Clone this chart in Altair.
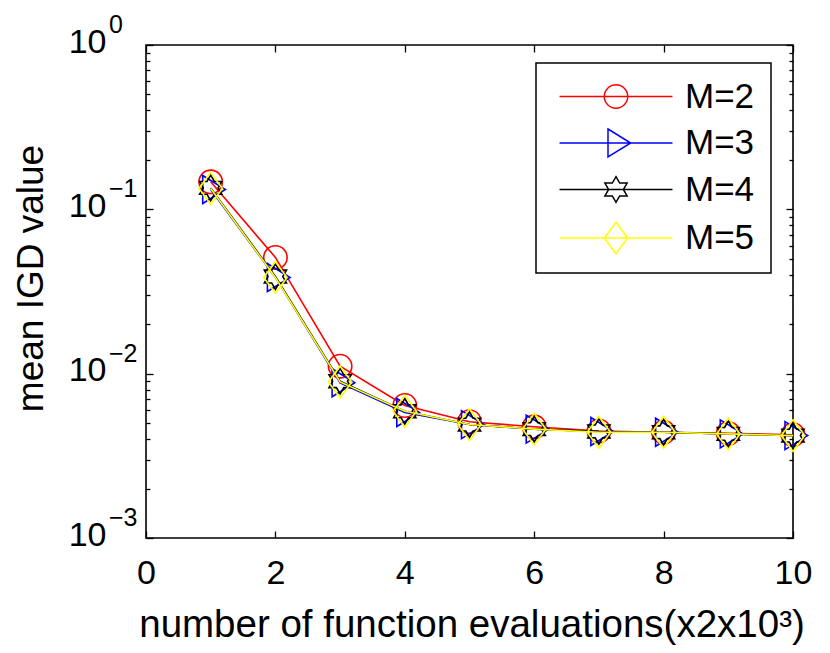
import math
import altair as alt
import pandas as pd

# ---- data ----
x_vals = [1, 2, 3, 4, 5, 6, 7, 8, 9, 10]
series_names = ["M=2", "M=3", "M=4", "M=5"]
series_colors = ["#ff0000", "#0000ff", "#000000", "#ffff00"]
m2 = [0.147, 0.051, 0.0111, 0.0064, 0.0051, 0.00475, 0.00448, 0.0044, 0.00433, 0.00425]
m3 = [0.132, 0.0385, 0.0088, 0.0058, 0.0049, 0.0046, 0.00445, 0.0044, 0.0043, 0.0042]
m4 = [0.135, 0.0390, 0.0090, 0.0059, 0.0049, 0.0046, 0.00445, 0.0044, 0.0043, 0.0042]
m5 = [0.134, 0.0385, 0.0089, 0.0059, 0.0049, 0.0046, 0.0044, 0.0044, 0.0043, 0.0042]
series_values = [m2, m3, m4, m5]

x_ticks = [0, 2, 4, 6, 8, 10]
y_major = [0.001, 0.01, 0.1, 1]
y_exponents = ["\u22123", "\u22122", "\u22121", "0"]
y_minor = [k * 10 ** e for e in (-3, -2, -1) for k in range(2, 10)]

x_title = "number of function evaluations(x2x10\u00b3)"
y_title = "mean IGD value"

rows = []
for name, vals in zip(series_names, series_values):
    for xv, yv in zip(x_vals, vals):
        rows.append({"series": name, "x": xv, "y": yv})
df = pd.DataFrame(rows)
exp_df = pd.DataFrame({"v": y_major, "e": y_exponents})

# ---- marker shapes (unit square paths) ----
def fmt(v):
    return f"{v:.3f}"

def circle_path(cx, r):
    return (f"M {fmt(cx + r)} 0 A {fmt(r)} {fmt(r)} 0 1 1 {fmt(cx - r)} 0 "
            f"A {fmt(r)} {fmt(r)} 0 1 1 {fmt(cx + r)} 0 Z")

def tri_path(cx):
    return f"M {fmt(cx - 0.8)} -1.4 L {fmt(cx + 1.47)} 0 L {fmt(cx - 0.8)} 1.4 Z"

def hex_path(cx):
    R = 1.28
    r = R / math.sqrt(3)
    pts = []
    for k in range(12):
        a = math.radians(-90 + 30 * k)
        rad = R if k % 2 == 0 else r
        pts.append((cx + rad * math.cos(a), rad * math.sin(a)))
    return "M " + " L ".join(f"{fmt(px)} {fmt(py)}" for px, py in pts) + " Z"

def dia_path(cx):
    return f"M {fmt(cx)} -1.58 L {fmt(cx + 1.17)} 0 L {fmt(cx)} 1.58 L {fmt(cx - 1.17)} 0 Z"

marker_paths = [circle_path(0, 1.17), tri_path(0), hex_path(0), dia_path(0)]
mc = 4.65
line_seg = "M -1 0 L 10.3 0 "
legend_paths = [line_seg + p for p in
                [circle_path(mc, 1.17), tri_path(mc), hex_path(mc), dia_path(mc)]]

FONT = "Liberation Sans"
W, H = 647, 493

xs = alt.Scale(domain=[0, 10], nice=False, zero=False)
ys = alt.Scale(type="log", domain=[0.001, 1], nice=False)

common_axis = dict(domain=False, grid=False, tickColor="black", tickWidth=1.3,
                   labelFont=FONT, labelColor="black", titleFont=FONT,
                   titleColor="black", titleFontWeight="normal",
                   labelFlush=False, labelOverlap=False)

x_bottom = alt.Axis(values=x_ticks, format="d", tickSize=7, offset=-7,
                    labelFontSize=34, labelPadding=45, labelBaseline="alphabetic",
                    title=x_title, titleFontSize=38.5, titleBaseline="alphabetic",
                    titleX=W / 2 + 2, titleY=105, titleAlign="center", **common_axis)
y_left = alt.Axis(values=y_major, labelExpr="'10'", tickSize=7, offset=-7,
                  labelFontSize=34, labelPadding=40, labelBaseline="alphabetic",
                  labelOffset=7, title=y_title, titleFontSize=37,
                  titleAngle=270, titleBaseline="alphabetic", titleAlign="center",
                  titleX=-111, titleY=233, **common_axis)

legend_def = alt.Legend(orient="none", legendX=390, legendY=18, title=None,
                        labelFont=FONT, labelFontSize=35, labelColor="black",
                        symbolSize=400, symbolStrokeWidth=1.5, labelOffset=98,
                        padding=16, rowPadding=10.5, strokeColor="black",
                        fillColor="white", labelLimit=300, symbolFillColor="transparent")

base = alt.Chart(df)
enc = dict(x=alt.X("x:Q", scale=xs, axis=x_bottom),
           y=alt.Y("y:Q", scale=ys, axis=y_left))

series_layers = []
for name, col, path in zip(series_names, series_colors, marker_paths):
    series_layers.append(
        base.transform_filter(alt.datum.series == name)
        .mark_line(color=col, strokeWidth=1.6,
                   point=alt.OverlayMarkDef(shape=path, size=400, filled=False,
                                            color=col, strokeWidth=1.6, opacity=1))
        .encode(**enc)
    )

legend_layer = base.transform_filter("false").mark_point(
    filled=False, opacity=1, strokeWidth=1.5
).encode(
    x=alt.X("x:Q", scale=xs, axis=x_bottom),
    y=alt.Y("y:Q", scale=ys, axis=y_left),
    color=alt.Color("series:N", scale=alt.Scale(domain=series_names, range=series_colors),
                    legend=legend_def),
    shape=alt.Shape("series:N", scale=alt.Scale(domain=series_names, range=legend_paths),
                    legend=legend_def),
)

exp_layer = alt.Chart(exp_df).mark_text(
    align="left", baseline="alphabetic", dy=-12, fontSize=25, font=FONT, color="black"
).encode(
    x=alt.value(-37),
    y=alt.Y("v:Q", scale=ys, axis=y_left),
    text="e:N",
)

data_layer = alt.layer(*series_layers, legend_layer, exp_layer)

empty = base.transform_filter("false").mark_point(opacity=0)

axis2 = empty.encode(
    x=alt.X("x:Q", scale=xs, axis=alt.Axis(orient="top", values=x_ticks, tickSize=7,
                                         offset=-7, labels=False, title=None, **common_axis)),
    y=alt.Y("y:Q", scale=ys, axis=alt.Axis(orient="left", values=y_minor, tickSize=4,
                                         offset=-4, labels=False, title=None, **common_axis)),
)
axis3 = empty.encode(
    x=alt.X("x:Q", scale=xs, axis=None),
    y=alt.Y("y:Q", scale=ys, axis=alt.Axis(orient="right", values=y_major, tickSize=7,
                                         offset=-7, labels=False, title=None, **common_axis)),
)
axis4 = empty.encode(
    x=alt.X("x:Q", scale=xs, axis=None),
    y=alt.Y("y:Q", scale=ys, axis=alt.Axis(orient="right", values=y_minor, tickSize=4,
                                         offset=-4, labels=False, title=None, **common_axis)),
)

chart = alt.layer(data_layer, axis2, axis3, axis4).resolve_scale(
    x="independent", y="independent"
).properties(
    width=W, height=H,
    background="white",
    autosize=alt.AutoSizeParams(type="none"),
    padding={"left": 138, "top": 37, "right": 29, "bottom": 107},
).configure_view(
    stroke="black", strokeWidth=1.6
).configure_legend(strokeWidth=1.5)

chart.save("out.html", embed_options={"renderer": "svg", "actions": False})
